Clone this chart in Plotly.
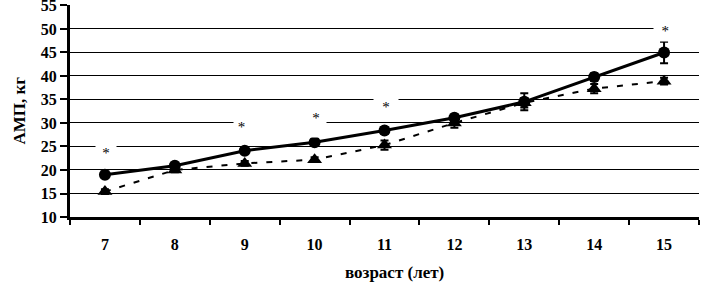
import plotly.graph_objects as go

ages = ["7", "8", "9", "10", "11", "12", "13", "14", "15"]
circle_vals = [19.0, 20.9, 24.1, 25.9, 28.4, 31.1, 34.5, 39.8, 45.0]
circle_err = [0.5, 0.5, 0.5, 0.5, 0.7, 0.7, 1.8, 0.8, 2.3]
triangle_vals = [15.4, 20.0, 21.4, 22.2, 25.3, 30.0, 34.3, 37.3, 38.9]
triangle_err = [0.5, 0.5, 0.5, 0.5, 1.0, 1.0, 1.0, 1.0, 0.7]
star_ages = ["7", "9", "10", "11", "15"]
star_y = [24.3, 29.8, 31.6, 34.1, 50.3]
y_ticks = [10, 15, 20, 25, 30, 35, 40, 45, 50, 55]

FONT = "Liberation Serif"

fig = go.Figure()
fig.add_trace(go.Scatter(
    x=ages, y=triangle_vals, mode="lines+markers",
    line=dict(color="black", width=2, dash="6px,9px"),
    marker=dict(symbol="triangle-up", size=13, color="black"),
    error_y=dict(type="data", array=triangle_err, color="black", thickness=2, width=4),
    showlegend=False,
))
fig.add_trace(go.Scatter(
    x=ages, y=circle_vals, mode="lines+markers",
    line=dict(color="black", width=3),
    marker=dict(symbol="circle", size=12, color="black"),
    error_y=dict(type="data", array=circle_err, color="black", thickness=2, width=4),
    showlegend=False,
))

# white boxes behind asterisks (interrupting gridlines as in the source)
star_box = {"7": (20, -10, "*"), "9": (90, -12, "&nbsp;*"), "10": (20, -10, "*"),
            "11": (24, -12, "*"), "15": (48, -11, "&nbsp;&nbsp;*")}
for a, y in zip(star_ages, star_y):
    w, xs, txt = star_box[a]
    fig.add_annotation(x=ages.index(a), y=y, text=txt, showarrow=False, xref="x", yref="y",
                       font=dict(family=FONT, size=15, color="black"),
                       bgcolor="white", width=w, height=20, yshift=-3,
                       xanchor="left", xshift=xs, align="left" if w > 24 else "center",
                       borderpad=0)

fig.add_annotation(x=0.5, y=0, xref="paper", yref="paper", yshift=-55, xshift=10,
                   yanchor="middle",
                   text="возраст (лет)", showarrow=False,
                   font=dict(family=FONT, size=17, color="black", weight="bold"))
fig.add_annotation(x=0, y=0.5, xref="paper", yref="paper", xshift=-63,
                   text="АМП, кг", textangle=-90, showarrow=False,
                   font=dict(family=FONT, size=17, color="black", weight="bold"))

fig.update_layout(
    width=701, height=286,
    margin=dict(l=70, r=2, t=5, b=69, autoexpand=False),
    paper_bgcolor="white", plot_bgcolor="white",
    xaxis=dict(type="category", range=[-0.5, 8.5], tickson="boundaries", ticks="outside",
               ticklen=5, tickwidth=2, tickcolor="black", showline=True, linecolor="black",
               linewidth=3, showgrid=False, ticklabelstandoff=11, automargin=False,
               tickfont=dict(family=FONT, size=16, color="black", weight="bold")),
    yaxis=dict(range=[10, 55.1], tickvals=y_ticks, ticks="outside", ticklen=7,
               tickwidth=2, tickcolor="black", showline=True, linecolor="black",
               linewidth=3, showgrid=True, gridcolor="black", gridwidth=1,
               zeroline=False, automargin=False, ticklabeloverflow="allow",
               tickfont=dict(family=FONT, size=16, color="black", weight="bold")),
)

fig.write_html("out.html", config={"displayModeBar": False},
               post_script="document.body.style.margin='0';")
